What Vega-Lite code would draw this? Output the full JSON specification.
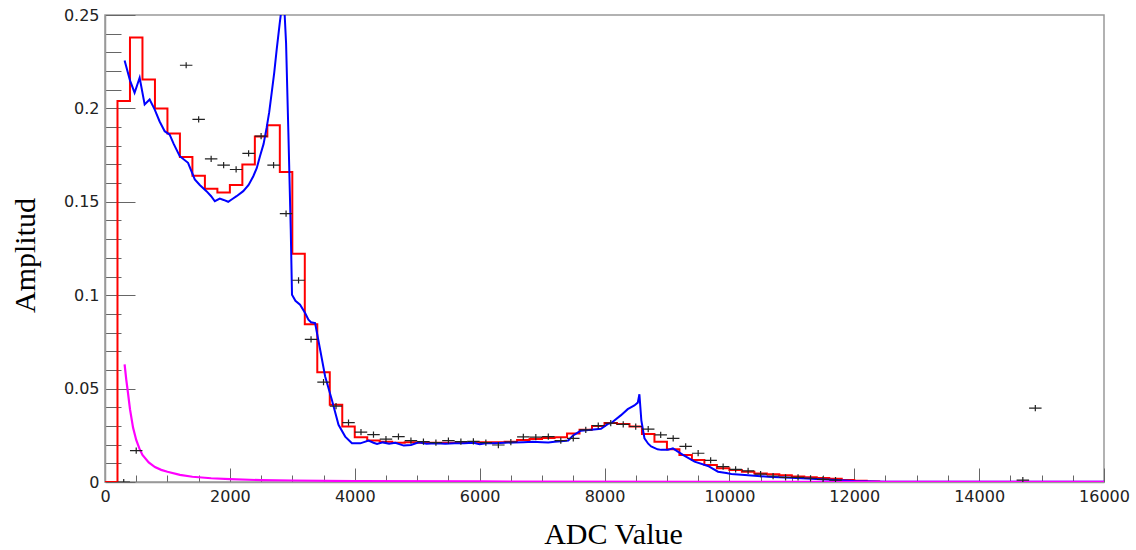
{
  "$schema": "https://vega.github.io/schema/vega-lite/v6.json",
  "autosize": "none",
  "width": 999,
  "height": 467,
  "padding": {"left": 105, "top": 15, "right": 32, "bottom": 68},
  "background": "white",
  "config": {
    "view": {"stroke": "#999", "strokeWidth": 1.5},
    "axis": {
      "domainColor": "#999", "domainWidth": 1.5, "tickColor": "#666", "tickWidth": 1,
      "labelFont": "DejaVu Sans", "labelFontSize": 16, "labelColor": "#222",
      "labelOverlap": false, "labelFlush": false, "grid": false,
      "titleFont": "Liberation Serif", "titleFontSize": 30, "titleFontWeight": "normal", "titleColor": "#000"
    }
  },
  "datasets": {
    "red": [
      {"x": 0, "y": 0}, {"x": 200, "y": 0.204}, {"x": 400, "y": 0.238}, {"x": 600, "y": 0.2155},
      {"x": 800, "y": 0.2}, {"x": 1000, "y": 0.1866}, {"x": 1200, "y": 0.174}, {"x": 1400, "y": 0.164},
      {"x": 1600, "y": 0.157}, {"x": 1800, "y": 0.155}, {"x": 2000, "y": 0.159}, {"x": 2200, "y": 0.17},
      {"x": 2400, "y": 0.185}, {"x": 2600, "y": 0.191}, {"x": 2800, "y": 0.166}, {"x": 3000, "y": 0.1222},
      {"x": 3200, "y": 0.0845}, {"x": 3400, "y": 0.0588}, {"x": 3600, "y": 0.0413}, {"x": 3800, "y": 0.0297},
      {"x": 4000, "y": 0.024}, {"x": 4200, "y": 0.0222}, {"x": 4400, "y": 0.0216}, {"x": 4600, "y": 0.021},
      {"x": 4800, "y": 0.0213}, {"x": 5000, "y": 0.021}, {"x": 5200, "y": 0.021}, {"x": 5400, "y": 0.021},
      {"x": 5600, "y": 0.021}, {"x": 5800, "y": 0.021}, {"x": 6000, "y": 0.0213}, {"x": 6200, "y": 0.0213},
      {"x": 6400, "y": 0.0216}, {"x": 6600, "y": 0.0225}, {"x": 6800, "y": 0.023}, {"x": 7000, "y": 0.0235},
      {"x": 7200, "y": 0.024}, {"x": 7400, "y": 0.026}, {"x": 7600, "y": 0.028}, {"x": 7800, "y": 0.03},
      {"x": 8000, "y": 0.0316}, {"x": 8200, "y": 0.031}, {"x": 8400, "y": 0.0297}, {"x": 8600, "y": 0.0257},
      {"x": 8800, "y": 0.0216}, {"x": 9000, "y": 0.0175}, {"x": 9200, "y": 0.0145}, {"x": 9400, "y": 0.0118},
      {"x": 9600, "y": 0.0091}, {"x": 9800, "y": 0.0073}, {"x": 10000, "y": 0.0064}, {"x": 10200, "y": 0.0055},
      {"x": 10400, "y": 0.0046}, {"x": 10600, "y": 0.0041}, {"x": 10800, "y": 0.0036}, {"x": 11000, "y": 0.003},
      {"x": 11200, "y": 0.0026}, {"x": 11400, "y": 0.0022}, {"x": 11600, "y": 0.0017}, {"x": 11800, "y": 0.0011},
      {"x": 12000, "y": 0.0007}, {"x": 12200, "y": 0.0003}, {"x": 12400, "y": 0}, {"x": 16000, "y": 0}
    ],
    "blue": [
      {"x": 314, "y": 0.2257}, {"x": 400, "y": 0.215}, {"x": 474, "y": 0.2084}, {"x": 555, "y": 0.2164},
      {"x": 635, "y": 0.2021}, {"x": 715, "y": 0.2048}, {"x": 795, "y": 0.1995}, {"x": 875, "y": 0.193},
      {"x": 956, "y": 0.1878}, {"x": 1036, "y": 0.186}, {"x": 1100, "y": 0.181}, {"x": 1197, "y": 0.1744},
      {"x": 1330, "y": 0.1709}, {"x": 1438, "y": 0.162}, {"x": 1518, "y": 0.159}, {"x": 1625, "y": 0.1557},
      {"x": 1700, "y": 0.153}, {"x": 1759, "y": 0.1503}, {"x": 1839, "y": 0.1517}, {"x": 1900, "y": 0.151},
      {"x": 1973, "y": 0.15}, {"x": 2040, "y": 0.1515}, {"x": 2107, "y": 0.153}, {"x": 2214, "y": 0.1557},
      {"x": 2300, "y": 0.159}, {"x": 2375, "y": 0.1637}, {"x": 2430, "y": 0.168}, {"x": 2482, "y": 0.1744},
      {"x": 2540, "y": 0.181}, {"x": 2589, "y": 0.1897}, {"x": 2630, "y": 0.198}, {"x": 2670, "y": 0.2084},
      {"x": 2710, "y": 0.219}, {"x": 2750, "y": 0.2316}, {"x": 2800, "y": 0.246}, {"x": 2860, "y": 0.262},
      {"x": 2900, "y": 0.235}, {"x": 2937, "y": 0.187}, {"x": 2975, "y": 0.135}, {"x": 2995, "y": 0.1003},
      {"x": 3050, "y": 0.097}, {"x": 3124, "y": 0.0949}, {"x": 3205, "y": 0.0905}, {"x": 3258, "y": 0.0869},
      {"x": 3300, "y": 0.0855}, {"x": 3365, "y": 0.0851}, {"x": 3446, "y": 0.0708}, {"x": 3526, "y": 0.0565},
      {"x": 3633, "y": 0.044}, {"x": 3740, "y": 0.0306}, {"x": 3847, "y": 0.0243}, {"x": 3955, "y": 0.0207},
      {"x": 4088, "y": 0.0207}, {"x": 4222, "y": 0.0222}, {"x": 4300, "y": 0.021}, {"x": 4357, "y": 0.0204},
      {"x": 4450, "y": 0.0212}, {"x": 4550, "y": 0.0205}, {"x": 4650, "y": 0.021}, {"x": 4785, "y": 0.0195},
      {"x": 4900, "y": 0.0198}, {"x": 5025, "y": 0.0213}, {"x": 5150, "y": 0.0205}, {"x": 5300, "y": 0.0207},
      {"x": 5450, "y": 0.0205}, {"x": 5600, "y": 0.0208}, {"x": 5750, "y": 0.0207}, {"x": 5900, "y": 0.021},
      {"x": 6000, "y": 0.0202}, {"x": 6100, "y": 0.0208}, {"x": 6250, "y": 0.0207}, {"x": 6400, "y": 0.021},
      {"x": 6550, "y": 0.0212}, {"x": 6700, "y": 0.0213}, {"x": 6850, "y": 0.0215}, {"x": 7000, "y": 0.0213},
      {"x": 7100, "y": 0.0211}, {"x": 7200, "y": 0.0216}, {"x": 7350, "y": 0.022}, {"x": 7420, "y": 0.0222},
      {"x": 7500, "y": 0.025}, {"x": 7620, "y": 0.0275}, {"x": 7750, "y": 0.0278}, {"x": 7944, "y": 0.0285},
      {"x": 8050, "y": 0.031}, {"x": 8104, "y": 0.0315}, {"x": 8265, "y": 0.0358}, {"x": 8372, "y": 0.039},
      {"x": 8479, "y": 0.041}, {"x": 8533, "y": 0.0425}, {"x": 8559, "y": 0.047}, {"x": 8590, "y": 0.033},
      {"x": 8613, "y": 0.0285}, {"x": 8640, "y": 0.0234}, {"x": 8700, "y": 0.0205}, {"x": 8747, "y": 0.019},
      {"x": 8850, "y": 0.0175}, {"x": 8908, "y": 0.0172}, {"x": 9015, "y": 0.0172}, {"x": 9095, "y": 0.018},
      {"x": 9256, "y": 0.0145}, {"x": 9443, "y": 0.0109}, {"x": 9657, "y": 0.0086}, {"x": 9818, "y": 0.0055},
      {"x": 9950, "y": 0.0048}, {"x": 10032, "y": 0.0043}, {"x": 10246, "y": 0.0038}, {"x": 10621, "y": 0.0028},
      {"x": 11157, "y": 0.002}, {"x": 11693, "y": 0.0011}, {"x": 12000, "y": 0.0005}, {"x": 12500, "y": 0.0002},
      {"x": 16000, "y": 0.0001}
    ],
    "magenta": [
      {"x": 314, "y": 0.063}, {"x": 340, "y": 0.055}, {"x": 367, "y": 0.048}, {"x": 400, "y": 0.039},
      {"x": 450, "y": 0.029}, {"x": 500, "y": 0.0225}, {"x": 550, "y": 0.018}, {"x": 600, "y": 0.0145},
      {"x": 700, "y": 0.0105}, {"x": 800, "y": 0.008}, {"x": 900, "y": 0.0065}, {"x": 1000, "y": 0.0055},
      {"x": 1200, "y": 0.0038}, {"x": 1400, "y": 0.0028}, {"x": 1700, "y": 0.002}, {"x": 2000, "y": 0.0015},
      {"x": 2500, "y": 0.001}, {"x": 3000, "y": 0.0008}, {"x": 4000, "y": 0.0005}, {"x": 6000, "y": 0.0003},
      {"x": 10000, "y": 0.0001}, {"x": 16000, "y": 0.0001}
    ],
    "points": [
      {"x": 300, "y": 0}, {"x": 500, "y": 0.0168}, {"x": 1300, "y": 0.2231}, {"x": 1500, "y": 0.1941},
      {"x": 1700, "y": 0.173}, {"x": 1900, "y": 0.1696}, {"x": 2100, "y": 0.1673}, {"x": 2300, "y": 0.1759},
      {"x": 2500, "y": 0.1852}, {"x": 2700, "y": 0.1696}, {"x": 2900, "y": 0.1437}, {"x": 3100, "y": 0.108},
      {"x": 3300, "y": 0.0763}, {"x": 3500, "y": 0.0535}, {"x": 3700, "y": 0.0406}, {"x": 3900, "y": 0.0318},
      {"x": 4100, "y": 0.0267}, {"x": 4300, "y": 0.0254}, {"x": 4500, "y": 0.023}, {"x": 4700, "y": 0.0243},
      {"x": 4900, "y": 0.0222}, {"x": 5100, "y": 0.0216}, {"x": 5300, "y": 0.0211}, {"x": 5500, "y": 0.0222},
      {"x": 5700, "y": 0.0216}, {"x": 5900, "y": 0.0218}, {"x": 6100, "y": 0.0211}, {"x": 6300, "y": 0.0198},
      {"x": 6500, "y": 0.0214}, {"x": 6700, "y": 0.0242}, {"x": 6900, "y": 0.024}, {"x": 7100, "y": 0.0243},
      {"x": 7300, "y": 0.0222}, {"x": 7500, "y": 0.0234}, {"x": 7700, "y": 0.0279}, {"x": 7900, "y": 0.0302},
      {"x": 8100, "y": 0.0315}, {"x": 8300, "y": 0.0308}, {"x": 8500, "y": 0.0297}, {"x": 8700, "y": 0.0283},
      {"x": 8900, "y": 0.0252}, {"x": 9100, "y": 0.0234}, {"x": 9300, "y": 0.0191}, {"x": 9500, "y": 0.0154},
      {"x": 9700, "y": 0.0116}, {"x": 9900, "y": 0.0082}, {"x": 10100, "y": 0.0068}, {"x": 10300, "y": 0.006},
      {"x": 10500, "y": 0.0042}, {"x": 10700, "y": 0.0032}, {"x": 10900, "y": 0.0025}, {"x": 11100, "y": 0.0025},
      {"x": 11300, "y": 0.002}, {"x": 11500, "y": 0.0014}, {"x": 11700, "y": 0.001}, {"x": 14700, "y": 0.001},
      {"x": 14900, "y": 0.0395}
    ]
  },
  "encoding": {
    "x": {
      "field": "x", "type": "quantitative",
      "scale": {"domain": [0, 16000], "nice": false, "zero": false},
      "axis": {
        "title": "ADC Value",
        "values": [0,500,1000,1500,2000,2500,3000,3500,4000,4500,5000,5500,6000,6500,7000,7500,8000,8500,9000,9500,10000,10500,11000,11500,12000,12500,13000,13500,14000,14500,15000,15500,16000],
        "tickSize": {"condition": {"test": "datum.value % 2000 === 0", "value": -14}, "value": -7},
        "labelExpr": "datum.value % 2000 === 0 ? format(datum.value, 'd') : ''",
        "labelPadding": 20,
        "titleX": 508, "titleY": 61, "titleAnchor": "middle", "titleAlign": "center", "titleBaseline": "alphabetic"
      }
    },
    "y": {
      "field": "y", "type": "quantitative",
      "scale": {"domain": [0, 0.25], "nice": false, "zero": false},
      "axis": {
        "title": "Amplitud",
        "values": [0,0.01,0.02,0.03,0.04,0.05,0.06,0.07,0.08,0.09,0.1,0.11,0.12,0.13,0.14,0.15,0.16,0.17,0.18,0.19,0.2,0.21,0.22,0.23,0.24,0.25],
        "tickSize": {"condition": {"test": "round(datum.value*100) % 5 === 0", "value": -30}, "value": -16},
        "labelExpr": "round(datum.value*100) % 5 === 0 ? format(datum.value, '~g') : ''",
        "labelPadding": 36,
        "titleX": -71, "titleY": 240, "titleAngle": -90, "titleAnchor": "middle", "titleAlign": "center", "titleBaseline": "alphabetic"
      }
    }
  },
  "layer": [
    {"data": {"name": "red"}, "mark": {"type": "line", "interpolate": "step-after", "color": "#ff0000", "strokeWidth": 2, "clip": true}},
    {"data": {"name": "blue"}, "mark": {"type": "line", "color": "#0000ff", "strokeWidth": 2, "clip": true}},
    {"data": {"name": "magenta"}, "mark": {"type": "line", "color": "#ff00ff", "strokeWidth": 2.2, "clip": true}},
    {"data": {"name": "points"}, "mark": {"type": "point", "shape": "M-1,0L1,0M0,-0.5L0,0.5", "size": 156, "filled": false, "stroke": "#222", "strokeWidth": 1.2, "opacity": 1, "clip": true}}
  ]
}
